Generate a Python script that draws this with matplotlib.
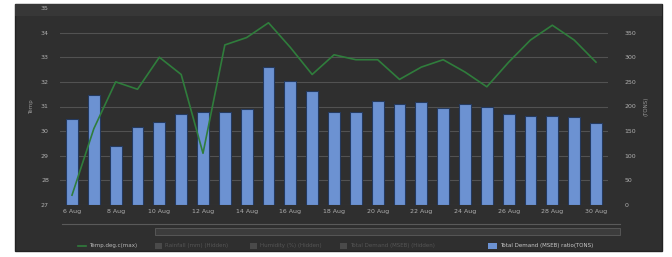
import matplotlib
matplotlib.use("Agg")
import matplotlib.pyplot as plt
from matplotlib.patches import Rectangle
from matplotlib.lines import Line2D

days = [f"{d} Aug" for d in range(6, 31)]
demand = [175, 223, 120, 158, 169, 185, 189, 189, 195, 280, 252, 232, 189, 188,
          211, 205, 209, 197, 205, 199, 185, 181, 181, 179, 167]
temp_max = [27.4, 30.1, 32.0, 31.7, 33.0, 32.3, 29.1, 33.5, 33.8, 34.4, 33.4, 32.3,
            33.1, 32.9, 32.9, 32.1, 32.6, 32.9, 32.4, 31.8, 32.8, 33.7, 34.3, 33.7, 32.8]
left_ticks = [27, 28, 29, 30, 31, 32, 33, 34, 35]
right_ticks = [0, 50, 100, 150, 200, 250, 300, 350, 400]
tick_days = list(range(0, 25, 2))

W, H = 672, 257
fig = plt.figure(figsize=(W / 100, H / 100), dpi=100)
fig.patch.set_facecolor("white")

def fx(px):
    return px / W

def fy(py):
    return 1 - py / H

# dark panel
fig.add_artist(Rectangle((fx(15), fy(251)), fx(662) - fx(15), fy(4) - fy(251),
                         transform=fig.transFigure, facecolor="#2f2f2f",
                         edgecolor="#222222", lw=1.0, zorder=0))
fig.add_artist(Rectangle((fx(15), fy(16)), fx(662) - fx(15), fy(4) - fy(16),
                         transform=fig.transFigure, facecolor="#373737",
                         edgecolor="none", zorder=0.5))

ax = fig.add_axes([fx(60), fy(205), fx(608) - fx(60), fy(8) - fy(205)])
ax.set_facecolor("none")
ax2 = ax.twinx()
ax.set_zorder(ax2.get_zorder() + 1)
ax.patch.set_visible(False)

x = list(range(len(days)))
ax2.bar(x, demand, width=0.54, color="#6c92d2", edgecolor="#243a60", linewidth=0.8, zorder=2)
ax2.set_ylim(0, 400)
ax2.set_yticks(right_ticks)
ax2.set_yticklabels([str(v) for v in right_ticks])

ax.plot(x, temp_max, color="#2f7d3c", lw=1.2, zorder=3)
ax.set_ylim(27, 35)
ax.set_yticks(left_ticks)
ax.set_xlim(-0.55, 24.55)
ax.set_xticks(tick_days)
ax.set_xticklabels([days[i] for i in tick_days])

for a in (ax, ax2):
    for s in a.spines.values():
        s.set_visible(False)
    a.tick_params(length=0, labelsize=4.5, colors="#b0b0b0", pad=3)
ax.tick_params(axis="y", pad=8)
ax2.tick_params(axis="y", pad=12)

for v in left_ticks:
    ax2.axhline((v - 27) * 50, color="#525252", lw=0.8, zorder=1)

ax.set_ylabel("Temp", fontsize=4, color="#999999", labelpad=5)
ax2.set_ylabel("(TONS)", fontsize=4, color="#999999", labelpad=5)

# scrollbar
fig.add_artist(Line2D([fx(62), fx(620)], [fy(224), fy(224)], transform=fig.transFigure,
                      color="#5a5a5a", lw=0.8))
fig.add_artist(Rectangle((fx(155), fy(235)), fx(620) - fx(155), fy(228) - fy(235),
                         transform=fig.transFigure, facecolor="#3c3c3c",
                         edgecolor="#5c5c5c", lw=0.6))

# legend
fig.add_artist(Line2D([fx(78), fx(86)], [fy(246), fy(246)], transform=fig.transFigure,
                      color="#2f7d3c", lw=1.2))
fig.text(fx(89), fy(246), "Temp.deg.c(max)", fontsize=4, color="#b8b8b8", va="center")
greyed = [(155, "Rainfall (mm) (Hidden)"), (250, "Humidity (%) (Hidden)"),
          (340, "Total Demand (MSEB) (Hidden)")]
for px, txt in greyed:
    fig.add_artist(Rectangle((fx(px), fy(249)), fx(7), fy(243) - fy(249),
                             transform=fig.transFigure, facecolor="#4a4a4a", edgecolor="none"))
    fig.text(fx(px + 10), fy(246), txt, fontsize=4, color="#555555", va="center")
fig.add_artist(Rectangle((fx(488), fy(249)), fx(9), fy(243) - fy(249),
                         transform=fig.transFigure, facecolor="#6c92d2", edgecolor="none"))
fig.text(fx(500), fy(246), "Total Demand (MSEB) ratio(TONS)", fontsize=4, color="#c8c8c8",
         va="center")

fig.savefig("out.png", dpi=100, facecolor=fig.get_facecolor())
